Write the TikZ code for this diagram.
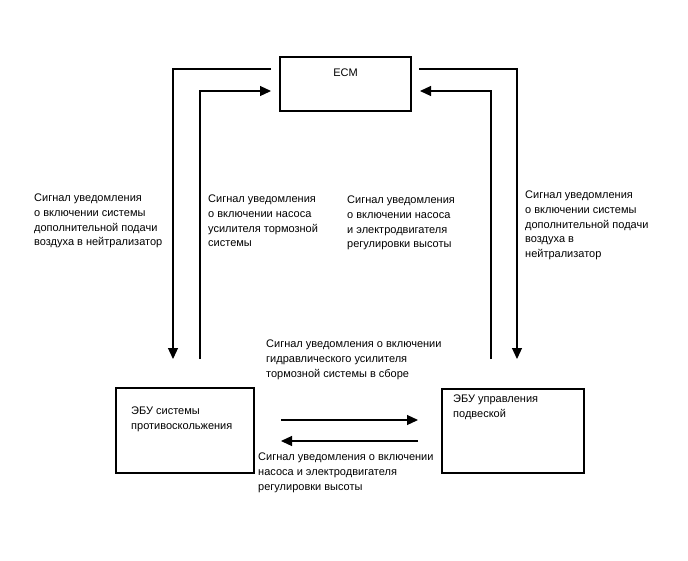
\documentclass[tikz,border=0pt]{standalone}
\usepackage{fontspec}
\setmainfont{Liberation Sans}
\usetikzlibrary{arrows.meta}

\begin{document}
\begin{tikzpicture}[x=1pt,y=-1pt,
		blk/.style={draw,line width=1.2pt,inner sep=0pt},
		sig/.style={line width=1.2pt,-{Triangle[length=11pt,width=10pt]}},
		txt/.style={align=left,anchor=north west,inner sep=0pt,font=\fontsize{11}{14.6}\selectfont}]
		\useasboundingbox (0,0) rectangle (688,560);

		% blocks
		\node[blk,minimum width=131pt,minimum height=54pt] (ecm) at (345.5,84) {};
		\node[blk,minimum width=138pt,minimum height=85pt] (abs) at (185,430.5) {};
		\node[blk,minimum width=142pt,minimum height=84pt] (susp) at (513,431) {};

		\node[txt,anchor=north] (ecmtxt) at (345.5,69) {ECM};
		\node[txt] (abstxt) at (131,407) {ЭБУ системы\\противоскольжения};
		\node[txt] (susptxt) at (453,395) {ЭБУ управления\\подвеской};

		% left side
		\coordinate (A1) at (271,69);
		\coordinate (A2) at (173,69);
		\coordinate (A3) at (173,359);

		\coordinate (B1) at (200,359);
		\coordinate (B2) at (200,91);
		\coordinate (B3) at (271,91);

		% right side
		\coordinate (C1) at (419,69);
		\coordinate (C2) at (517,69);
		\coordinate (C3) at (517,359);

		\coordinate (D1) at (491,359);
		\coordinate (D2) at (491,91);
		\coordinate (D3) at (420,91);

		% between the ECUs
		\coordinate (E1) at (281,420);
		\coordinate (E2) at (418,420);
		\coordinate (F1) at (418,441);
		\coordinate (F2) at (281,441);

		\draw[sig] (A1) -- (A2) -- (A3);
		\draw[sig] (B1) -- (B2) -- (B3);
		\draw[sig] (C1) -- (C2) -- (C3);
		\draw[sig] (D1) -- (D2) -- (D3);
		\draw[sig] (E1) -- (E2);
		\draw[sig] (F1) -- (F2);

		% signal labels
		\node[txt] (sigA) at (34,194) {Сигнал уведомления\\о включении системы\\дополнительной подачи\\воздуха в нейтрализатор};
		\node[txt] (sigB) at (208,195) {Сигнал уведомления\\о включении насоса\\усилителя тормозной\\системы};
		\node[txt] (sigD) at (347,196) {Сигнал уведомления\\о включении насоса\\и электродвигателя\\регулировки высоты};
		\node[txt] (sigC) at (525,191) {Сигнал уведомления\\о включении системы\\дополнительной подачи\\воздуха в\\нейтрализатор};
		\node[txt] (sigE) at (266,340) {Сигнал уведомления о включении\\гидравлического усилителя\\тормозной системы в сборе};
		\node[txt] (sigF) at (258,453) {Сигнал уведомления о включении\\насоса и электродвигателя\\регулировки высоты};
\end{tikzpicture}
\end{document}
